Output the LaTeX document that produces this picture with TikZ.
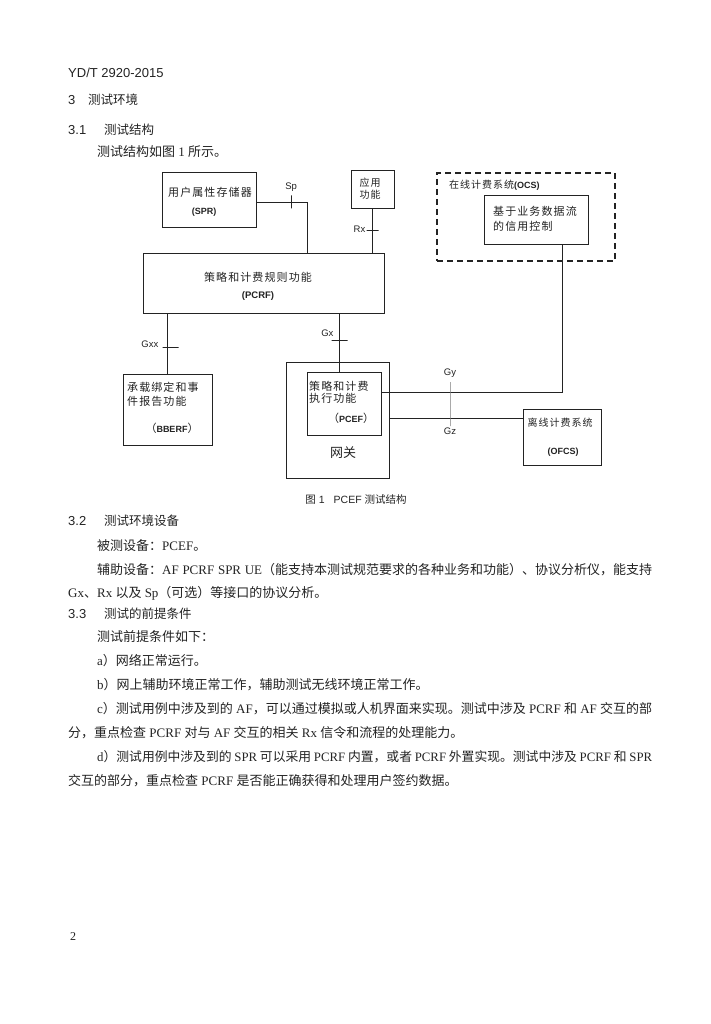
\documentclass[tikz,border=0pt]{standalone}
\usepackage{fontspec}
\setmainfont{Noto Sans CJK SC}
\newfontfamily\romfont{Liberation Serif}
\newfontfamily\arifont{Liberation Sans}
\newfontfamily\dgmfont[LetterSpace=10]{Noto Sans CJK SC}
\usetikzlibrary{positioning,calc}
\XeTeXlinebreaklocale "zh"
\XeTeXlinebreakskip=0pt plus 1pt minus 0.6pt
\definecolor{inkgrey}{RGB}{35,35,35}
\newcommand{\fsz}[2]{\fontsize{#1}{#2}\selectfont}
\newcommand{\rmtxt}[1]{{\romfont#1}}
\newcommand{\sftxt}[1]{{\arifont#1}}
\newcommand{\bftxt}[1]{{\arifont\bfseries#1}}
\newcommand{\fullline}[1]{\makebox[555pt][s]{#1}}

\begin{document}
\begin{tikzpicture}[x=1pt, y=-1pt, inkgrey,
    box/.style={draw=inkgrey, line width=0.8pt, inner sep=0pt},
    ocsbox/.style={draw=inkgrey, line width=1.1pt, dash pattern=on 6pt off 4pt, inner sep=0pt},
    link/.style={draw=inkgrey, line width=0.8pt},
    vtick/.style={draw=inkgrey, line width=0.6pt, minimum width=0pt, minimum height=13pt, inner sep=0pt, outer sep=0pt},
    htick/.style={draw=inkgrey, line width=0.6pt, minimum height=0pt, minimum width=16pt, inner sep=0pt, outer sep=0pt},
    lbl/.style={font=\arifont\fsz{9.5}{11}, inner sep=0pt},
    dgm/.style={font=\dgmfont\fsz{11}{13}, inner sep=0pt},
    tag/.style={font=\arifont\bfseries\fsz{9}{11}, inner sep=0pt},
    body/.style={font=\fsz{13}{15}, anchor=west, inner sep=0pt},
    head/.style={font=\fsz{12.5}{15}, anchor=west, inner sep=0pt},
    headnum/.style={font=\arifont\fsz{13}{15}, anchor=west, inner sep=0pt},
  ]

    % Page
    \fill[white] (0,0) rectangle (711,1024);
    \useasboundingbox (0,0) rectangle (711,1024);

    % Running head and headings
    \node[headnum] (docno) at (68,73) {YD/T 2920-2015};
    \node[headnum] (h3num) at (68,100) {3};
    \node[head] (h3) at (88,100) {测试环境};
    \node[headnum] (h31num) at (68,130) {3.1};
    \node[head] (h31) at (104,130) {测试结构};
    \node[headnum] (h32num) at (68,521) {3.2};
    \node[head] (h32) at (104,521) {测试环境设备};
    \node[headnum] (h33num) at (68,614) {3.3};
    \node[head] (h33) at (104,614) {测试的前提条件};

    % Body lines
    \foreach \y/\x/\t [count=\i] in {
      152/97/{测试结构如图\rmtxt{ 1 }所示。},
      546/97/{被测设备：\rmtxt{PCEF}。},
      570/97/{\fullline{辅助设备：\rmtxt{AF PCRF SPR UE}（能支持本测试规范要求的各种业务和功能）、协议分析仪，能支持}},
      593/68/{\rmtxt{Gx}、\rmtxt{Rx }以及\rmtxt{ Sp}（可选）等接口的协议分析。},
      637/97/{测试前提条件如下：},
      661/97/{\rmtxt{a}）网络正常运行。},
      685/97/{\rmtxt{b}）网上辅助环境正常工作，辅助测试无线环境正常工作。},
      709/97/{\fullline{\rmtxt{c}）测试用例中涉及到的\rmtxt{ AF}，可以通过模拟或人机界面来实现。测试中涉及\rmtxt{ PCRF }和\rmtxt{ AF }交互的部}},
      733/68/{分，重点检查\rmtxt{ PCRF }对与\rmtxt{ AF }交互的相关\rmtxt{ Rx }信令和流程的处理能力。},
      757/97/{\fsz{12.8}{15}\fullline{\rmtxt{d}）测试用例中涉及到的\rmtxt{ SPR }可以采用\rmtxt{ PCRF }内置，或者\rmtxt{ PCRF }外置实现。测试中涉及\rmtxt{ PCRF }和\rmtxt{ SPR}}},
      781/68/{交互的部分，重点检查\rmtxt{ PCRF }是否能正确获得和处理用户签约数据。}}{
      \node[body] (line\i) at (\x,\y) {\t};
    }

    % Caption and page number
    \node[font=\fsz{10.5}{13}, inner sep=0pt] (figcap) at (356,500)
      {图\sftxt{ 1}\hspace{9pt}\sftxt{PCEF }测试结构};
    \node[font=\romfont\fsz{12}{14}, inner sep=0pt] (pageno) at (73,937) {2};

    % Function boxes
    \node[box, minimum width=94pt, minimum height=55pt] (spr) at (209,199.5) {};
    \node[box, minimum width=43pt, minimum height=38pt] (af) at (372.5,189) {};
    \node[box, minimum width=241pt, minimum height=60pt] (pcrf) at (263.5,283) {};
    \node[ocsbox, minimum width=178pt, minimum height=88pt] (ocs) at (526,217) {};
    \node[box, minimum width=104pt, minimum height=49pt] (ocsctl) at (536,219.5) {};
    \node[box, minimum width=89pt, minimum height=71pt] (bberf) at (167.5,409.5) {};
    \node[box, minimum width=103pt, minimum height=116pt] (gw) at (337.5,420) {};
    \node[box, minimum width=74pt, minimum height=63pt] (pcef) at (344,403.5) {};
    \node[box, minimum width=78pt, minimum height=56pt] (ofcs) at (562,437) {};

    % Box texts
    \node[dgm] (sprname) at (210,192) {用户属性存储器};
    \node[tag] (sprtag) at (204,212) {(SPR)};
    \node[dgm, font=\dgmfont\fsz{10}{12}, align=center] (afname) at (370,189) {应用\\功能};
    \node[dgm] (pcrfname) at (258,277) {策略和计费规则功能};
    \node[tag, font=\arifont\bfseries\fsz{9.5}{11}] (pcrftag) at (258,296) {(PCRF)};
    \node[dgm, font=\dgmfont\fsz{10}{12}, anchor=west] (ocsname) at (449,185)
      {在线计费系统\bftxt{\fsz{9}{11}(OCS)}};
    \node[dgm, font=\dgmfont\fsz{11}{15}, anchor=west, align=left] (ocsctlname) at (493,219)
      {基于业务数据流\\的信用控制};
    \node[dgm, font=\dgmfont\fsz{11}{14}, anchor=west, align=left] (bbname) at (127,394)
      {承载绑定和事\\件报告功能};
    \node[dgm] (bbtag) at (172,428) {（\bftxt{\fsz{9}{11}BBERF}）};
    \node[dgm, font=\dgmfont\fsz{11}{12}, anchor=west, align=left] (pcefname) at (309,392.5)
      {策略和计费\\执行功能};
    \node[dgm] (pceftag) at (351,418) {（\bftxt{\fsz{9}{11}PCEF}）};
    \node[font=\fsz{13}{15}, inner sep=0pt] (gwname) at (343,453) {网关};
    \node[dgm, font=\dgmfont\fsz{10}{12}] (ofcsname) at (560,423) {离线计费系统};
    \node[tag] (ofcstag) at (563,452) {(OFCS)};

    % Sp
    \coordinate (sptap) at ([xshift=165pt]pcrf.north west);
    \draw[link] ([yshift=-2.5pt]spr.east) -| (sptap) node[vtick, pos=0.34] (sptick) {};
    \node[lbl, above=4pt of sptick] (splbl) {Sp};

    % Rx
    \draw[link] (af.south) -- (af.south |- pcrf.north)
      node[htick, pos=0.5, minimum width=12pt] (rxtick) {};
    \node[lbl, left=1pt of rxtick, yshift=1pt] (rxlbl) {Rx};

    % Gxx
    \draw[link] (bberf.north |- pcrf.south) -- (bberf.north)
      node[htick, pos=0.56, xshift=3pt] (gxxtick) {};
    \node[lbl, left=4pt of gxxtick, yshift=3pt] (gxxlbl) {Gxx};

    % Gx
    \coordinate (gxtap) at ([xshift=197pt]pcrf.south west);
    \draw[link] (gxtap) -- (gxtap |- pcef.north) node[htick, pos=0.47] (gxtick) {};
    \node[lbl, anchor=east] (gxlbl) at ([xshift=2pt, yshift=8pt]gxtick.west) {Gx};

    % Gy (to online charging)
    \coordinate (gyout) at ([yshift=11.5pt]pcef.east);
    \coordinate (gyin) at ([xshift=26pt]ocsctl.south);
    \draw[link] (gyout) -| (gyin);

    % Gz (to offline charging)
    \coordinate (gzout) at ([yshift=2pt]gw.east);
    \draw[link] (gzout) -- (gzout -| ofcs.west);

    % Gy/Gz reference point
    \node[vtick, minimum height=44pt, draw=inkgrey!60] (gygztick) at (450,404) {};
    \node[lbl, above=4pt of gygztick] (gylbl) {Gy};
    \node[lbl, below=2pt of gygztick] (gzlbl) {Gz};

\end{tikzpicture}
\end{document}
